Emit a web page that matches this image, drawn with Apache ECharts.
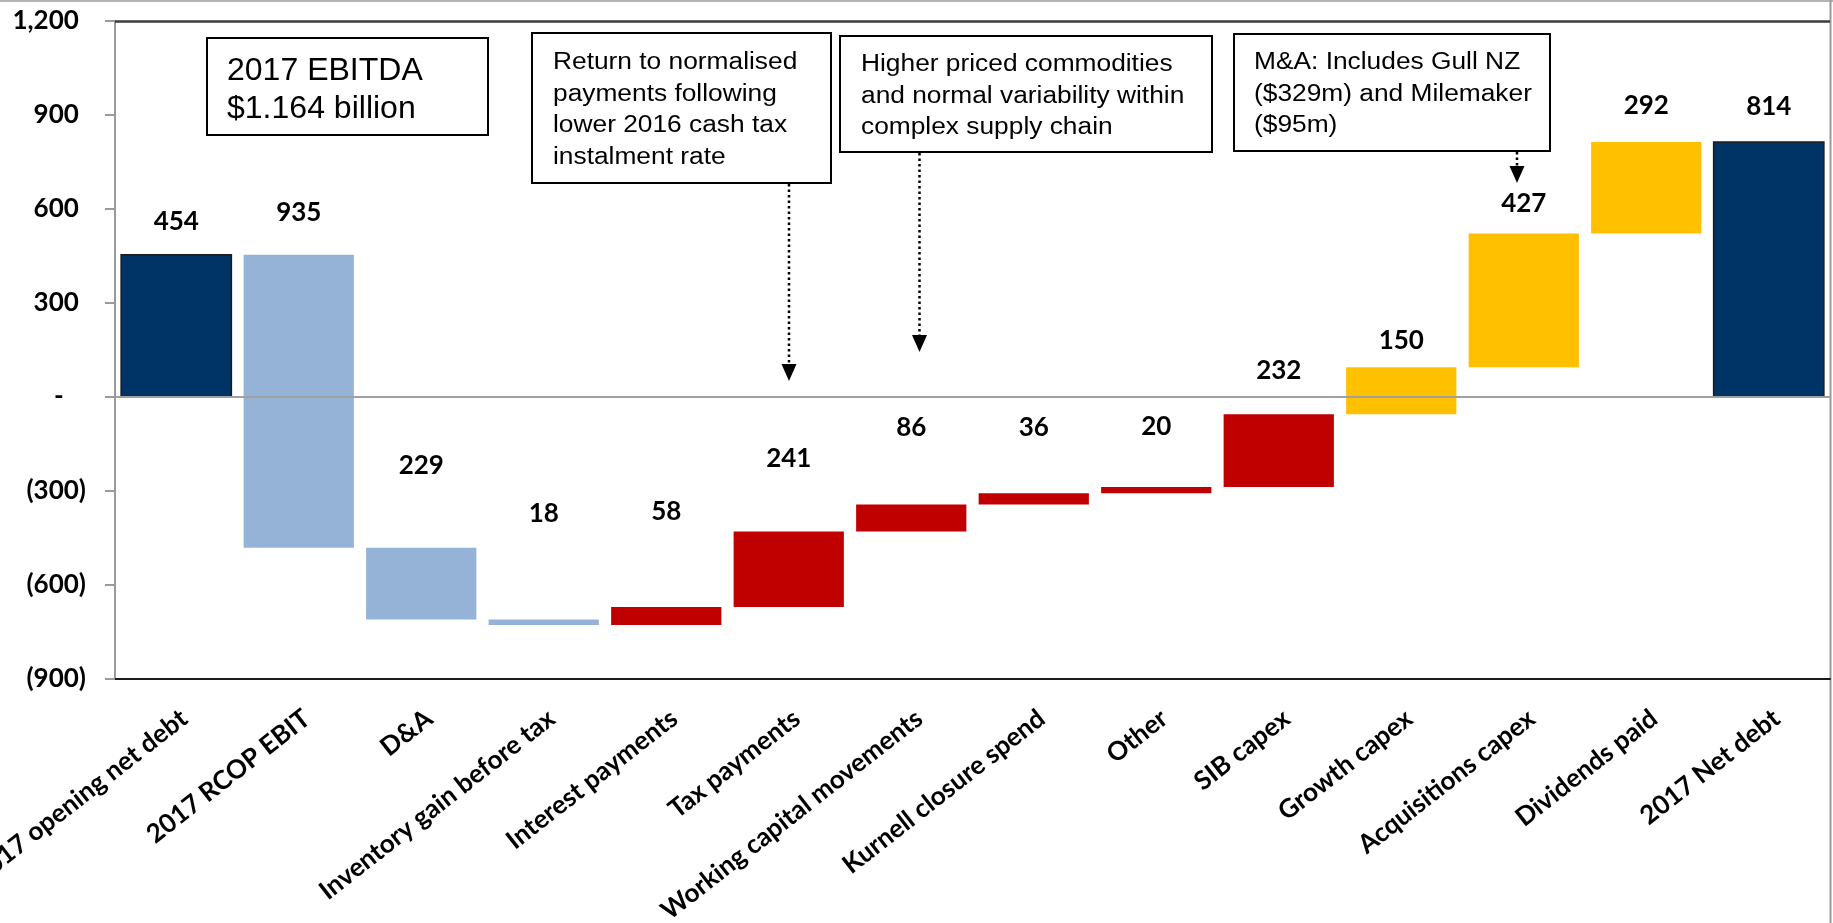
<!DOCTYPE html>
<html>
<head>
<meta charset="utf-8">
<script src="https://cdn.jsdelivr.net/npm/echarts@6/dist/echarts.min.js"></script>
<style>
  html, body { margin: 0; padding: 0; background: #ffffff; }
  #chart { width: 1833px; height: 923px; }
</style>
</head>
<body>
<div id="chart"></div>
<script>
// ---- Net debt bridge data ($m) ----
const categories = [
  '2017 opening net debt', '2017 RCOP EBIT', 'D&A', 'Inventory gain before tax',
  'Interest payments', 'Tax payments', 'Working capital movements', 'Kurnell closure spend',
  'Other', 'SIB capex', 'Growth capex', 'Acquisitions capex', 'Dividends paid', '2017 Net debt'
];
const openingNetDebt = 454;
// signed movements between the opening and closing bars
const movements = [-935, -229, -18, 58, 241, 86, 36, 20, 232, 150, 427, 292];
const closingNetDebt = 814;
// which colour family each bar belongs to
const barGroups = ['total', 'ebit', 'ebit', 'ebit', 'cash', 'cash', 'cash', 'cash', 'cash', 'cash',
                   'invest', 'invest', 'invest', 'total'];
// value axis range and step
const yMin = -900, yMax = 1200, yStep = 300;

// ---- styling ----
const groupColors = { total: '#003366', ebit: '#95b3d7', cash: '#c00000', invest: '#ffc000' };
// distance (px) from the top of each bar up to the centre of its value label
const labelLift = [33, 42, 82, 106, 95, 73, 77, 66, 60, 44, 27, 30, 36, 35];
const BOLD = { fontFamily: 'Lato', fontWeight: 'bold' };
const NOTE_FONT = '"Liberation Sans", Arial, sans-serif';

// build floating bars [index, low, high, labelValue] from the running total
const rows = [];
rows.push([0, 0, openingNetDebt, openingNetDebt]);
let running = openingNetDebt;
movements.forEach((m, i) => {
  const start = running;
  running += m;
  rows.push([i + 1, Math.min(start, running), Math.max(start, running), Math.abs(m)]);
});
rows.push([categories.length - 1, 0, closingNetDebt, closingNetDebt]);

function renderBar(params, api) {
  const idx = api.value(0);
  const top = api.coord([idx, api.value(2)]);
  const bottom = api.coord([idx, api.value(1)]);
  const width = api.size([1, 0])[0] * 0.9;
  const group = barGroups[idx];
  const isTotal = group === 'total';
  return {
    type: 'group',
    children: [
      {
        type: 'rect',
        shape: { x: top[0] - width / 2, y: top[1], width: width, height: bottom[1] - top[1] },
        style: {
          fill: groupColors[group],
          stroke: isTotal ? '#1b1b1b' : null,
          lineWidth: isTotal ? 1.5 : 0
        }
      },
      {
        type: 'text',
        x: top[0],
        y: top[1] - labelLift[idx],
        style: {
          text: String(api.value(3)),
          fill: '#000',
          font: 'bold 26px Lato',
          align: 'center',
          verticalAlign: 'middle'
        }
      }
    ]
  };
}

function yLabel(v) {
  if (v === 0) return '{n|-}{pad|0)}';
  const s = Math.abs(v).toLocaleString('en-US');
  return v < 0 ? '{n|(' + s + ')}' : '{n|' + s + '}{pad|)}';
}

// callout boxes with their dotted arrows
function noteBox(x, y, w, h, lines, textX, textTop, fontSize, lineHeight, stretch) {
  return {
    type: 'group',
    children: [
      { type: 'rect', shape: { x: x, y: y, width: w, height: h },
        style: { fill: '#fff', stroke: '#000', lineWidth: 2 } },
      { type: 'text', x: textX, y: textTop, scaleX: stretch, scaleY: 1,
        style: { text: lines.join('\n'), fill: '#000', font: fontSize + 'px ' + NOTE_FONT,
                 lineHeight: lineHeight, align: 'left', verticalAlign: 'top' } }
    ]
  };
}
function dottedArrow(x, y1, y2) {
  return {
    type: 'group',
    children: [
      { type: 'line', shape: { x1: x, y1: y1, x2: x, y2: y2 - 16 },
        style: { stroke: '#000', lineWidth: 2.5, lineDash: [2.5, 3] } },
      { type: 'polygon', shape: { points: [[x - 7.5, y2 - 17], [x + 7.5, y2 - 17], [x, y2]] },
        style: { fill: '#000' } }
    ]
  };
}

const chart = echarts.init(document.getElementById('chart'), null, { renderer: 'canvas' });
chart.setOption({
  animation: false,
  backgroundColor: '#ffffff',
  grid: { left: 115, right: 3, top: 21, bottom: 244, containLabel: false, outerBoundsMode: 'none' },
  xAxis: {
    type: 'category',
    data: categories,
    axisLine: { onZero: false, lineStyle: { color: '#1a1a1a', width: 2 } },
    axisTick: { show: false },
    splitLine: { show: false },
    axisLabel: {
      interval: 0, rotate: 38, margin: 26, align: 'right', verticalAlign: 'top',
      color: '#000', fontSize: 26, ...BOLD
    }
  },
  yAxis: {
    type: 'value',
    min: yMin, max: yMax, interval: yStep,
    axisLine: { show: true, lineStyle: { color: '#9a9a9a', width: 2 } },
    axisTick: { show: true, length: 10, lineStyle: { color: '#9a9a9a', width: 2 } },
    splitLine: { show: false },
    axisLabel: {
      margin: 29,
      formatter: yLabel,
      rich: {
        n: { color: '#000', fontSize: 26, ...BOLD },
        pad: { color: 'rgba(0,0,0,0)', fontSize: 26, ...BOLD }
      }
    }
  },
  series: [{
    type: 'custom',
    renderItem: renderBar,
    encode: { x: 0, y: [1, 2] },
    data: rows,
    markLine: {
      silent: true,
      symbol: ['none', 'none'],
      label: { show: false },
      z: 5,
      data: [
        { yAxis: 0, lineStyle: { color: '#a0a0a0', width: 2, type: 'solid' } },
        { yAxis: yMax, lineStyle: { color: '#3c3c3c', width: 2.5, type: 'solid' } }
      ]
    }
  }],
  graphic: [
    { type: 'line', shape: { x1: 0, y1: 1, x2: 1833, y2: 1 }, style: { stroke: '#b4b4b4', lineWidth: 2 } },
    { type: 'line', shape: { x1: 1830.5, y1: 0, x2: 1830.5, y2: 923 }, style: { stroke: '#9a9a9a', lineWidth: 2 } },
    noteBox(207, 38, 281, 97, ['2017 EBITDA', '$1.164 billion'], 227, 53, 30.5, 38, 1.05),
    noteBox(532, 33, 299, 150, ['Return to normalised', 'payments following', 'lower 2016 cash tax', 'instalment rate'], 553, 47, 23.5, 31.5, 1.12),
    noteBox(840, 36, 372, 116, ['Higher priced commodities', 'and normal variability within', 'complex supply chain'], 861, 49, 23.5, 31.5, 1.12),
    noteBox(1234, 34, 316, 117, ['M&A: Includes Gull NZ', '($329m) and Milemaker', '($95m)'], 1254, 47, 23.5, 31.5, 1.12),
    dottedArrow(789, 184, 381),
    dottedArrow(919.5, 153, 352),
    dottedArrow(1517, 152, 183)
  ]
});
</script>
</body>
</html>
